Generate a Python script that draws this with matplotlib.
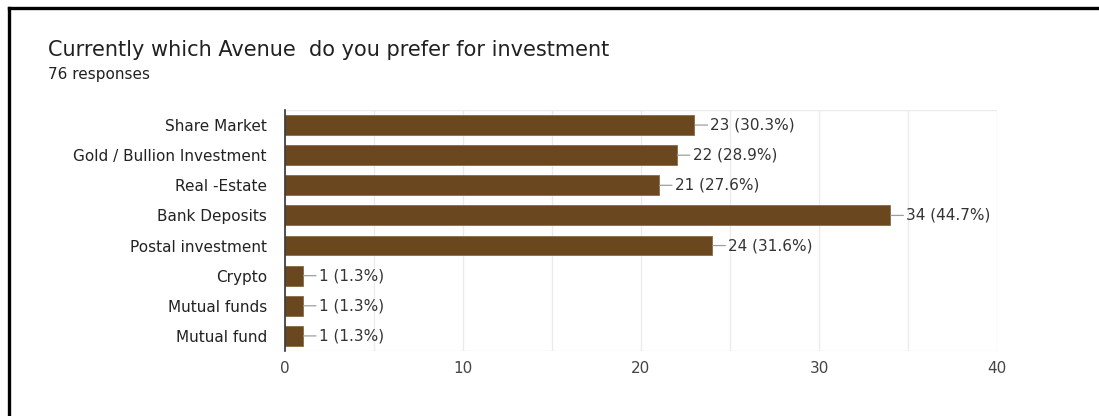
import matplotlib.pyplot as plt
from matplotlib.lines import Line2D

# survey answers, top to bottom
categories = ['Share Market', 'Gold / Bullion Investment', 'Real -Estate', 'Bank Deposits',
              'Postal investment', 'Crypto', 'Mutual funds', 'Mutual fund']
counts = [23, 22, 21, 34, 24, 1, 1, 1]
percents = ['30.3%', '28.9%', '27.6%', '44.7%', '31.6%', '1.3%', '1.3%', '1.3%']
x_ticks = [0, 10, 20, 30, 40]

bar_color = '#6b4720'
label_font = 'DejaVu Sans'

fig = plt.figure(figsize=(10.99, 4.16), dpi=100)
ax = fig.add_axes([0.2593, 0.1563, 0.6479, 0.5793])

ypos = list(range(len(categories)))
ax.barh(ypos, counts, height=0.66, color=bar_color, edgecolor='#8a6a48', linewidth=0.6, zorder=3)

for y, c, p in zip(ypos, counts, percents):
    ax.annotate(f'{c} ({p})', xy=(c, y), xytext=(11.5, 0), textcoords='offset points',
                ha='left', va='center', fontsize=11, color='#333333', family=label_font,
                arrowprops=dict(arrowstyle='-', color='#9e9e9e', lw=0.9,
                                shrinkA=0, shrinkB=0.5))

ax.set_ylim(len(categories) - 0.5, -0.5)
ax.set_xlim(0, 40)
ax.set_yticks(ypos)
ax.set_yticklabels(categories, fontsize=11, color='#222222', family=label_font)
ax.set_xticks(x_ticks)
ax.set_xticklabels([str(t) for t in x_ticks], fontsize=11, color='#444444', family=label_font)
ax.set_xticks([5, 15, 25, 35], minor=True)
ax.tick_params(axis='both', length=0, pad=7)
ax.tick_params(axis='x', which='minor', length=0)
ax.tick_params(axis='y', pad=13)
ax.grid(axis='x', which='both', color='#ebebeb', linewidth=1, zorder=0)

for side in ['top', 'right', 'bottom']:
    ax.spines[side].set_visible(False)
ax.spines['left'].set_color('#333333')
ax.spines['left'].set_linewidth(1.2)
ax.spines['left'].set_zorder(4)
# light frame lines at top and bottom of the plot area
ax.axhline(-0.5, color='#ebebeb', lw=1, zorder=0)
ax.axhline(len(categories) - 0.5, color='#ebebeb', lw=1, zorder=0)

fig.text(48 / 1099, 1 - 50 / 416, 'Currently which Avenue  do you prefer for investment',
         fontsize=15, color='#212121', family='DejaVu Sans', va='center')
fig.text(48 / 1099, 1 - 75 / 416, '76 responses', fontsize=11, color='#212121',
         family='DejaVu Sans', va='center')

# black frame along the top and left edge
fig.add_artist(Line2D([9 / 1099, 1], [1 - 8 / 416, 1 - 8 / 416], color='black', lw=2.4,
                      transform=fig.transFigure))
fig.add_artist(Line2D([9 / 1099, 9 / 1099], [0, 1 - 8 / 416], color='black', lw=2.4,
                      transform=fig.transFigure))

fig.savefig('out.png', dpi=100)
